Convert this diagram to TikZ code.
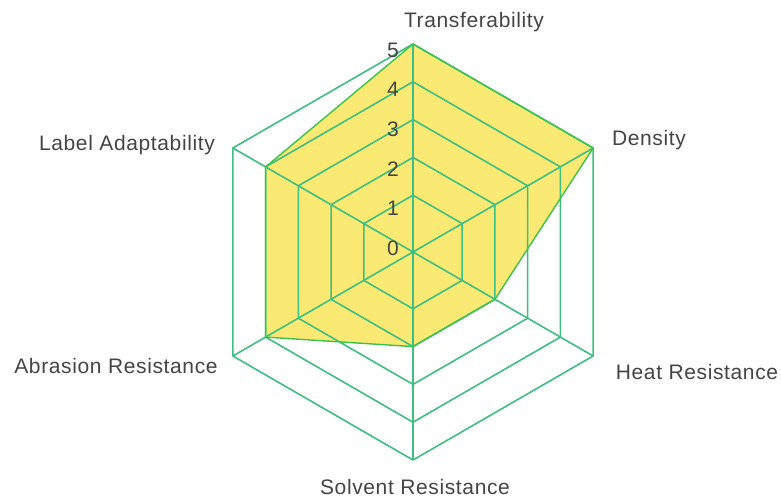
\documentclass[tikz,border=0pt]{standalone}
\usepackage{fontspec}
\setmainfont{Liberation Sans}
\newfontfamily\labelfont{Liberation Sans}[LetterSpace=3]
\definecolor{ringgreen}{RGB}{62,190,128}
\definecolor{areagreen}{RGB}{60,195,75}
\definecolor{areayellow}{RGB}{250,234,115}
\definecolor{labelgray}{RGB}{68,68,68}

\begin{document}
\begin{tikzpicture}[x=1pt,y=1pt,
  ring/.style={draw=ringgreen,line width=1.6pt,line join=round},
  area/.style={draw=areagreen,line width=1.4pt,line join=round},
  axislabel/.style={text=labelgray,font=\labelfont\fontsize{21}{25}\selectfont,inner sep=0pt},
  ticklabel/.style={text=labelgray,font=\fontsize{21}{25}\selectfont,inner sep=0pt}]
\useasboundingbox (0,0) rectangle (781,500);
\coordinate (c) at (413,248);

% data
\foreach \a/\v [count=\i] in {90/5,30/5,-30/2,-90/2,-150/4,150/4}
  \coordinate (p\i) at ([shift={(\a:{19+37.8*\v})}]c);
\fill[areayellow] (p1) -- (p2) -- (p3) -- (p4) -- (p5) -- (p6) -- cycle;

% rings
\foreach \k in {1,...,5}{
  \pgfmathsetmacro\r{19+37.8*\k}
  \draw[ring] ([shift={(90:\r)}]c) -- ([shift={(30:\r)}]c) -- ([shift={(-30:\r)}]c)
    -- ([shift={(-90:\r)}]c) -- ([shift={(-150:\r)}]c) -- ([shift={(150:\r)}]c) -- cycle;
}
\foreach \a [count=\i] in {90,30,-30,-90,-150,150}
  \coordinate (o\i) at ([shift={(\a:208)}]c);
\foreach \i in {1,...,6}
  \draw[ring] (c) -- (o\i);

\draw[area] (p1) -- (p2) -- (p3) -- (p4) -- (p5) -- (p6) -- cycle;

% scale
\foreach \k in {0,...,5}
  \node[ticklabel] (t\k) at (393,{252+39.6*\k}) {\k};

% axes
\node[axislabel] (transfer) at (474,478) {Transferability};
\node[axislabel] (density) at (649,360) {Density};
\node[axislabel] (heat) at (697,128) {Heat Resistance};
\node[axislabel] (solvent) at (415,13) {Solvent Resistance};
\node[axislabel] (abrasion) at (116,134) {Abrasion Resistance};
\node[axislabel] (adapt) at (127,355) {Label Adaptability};
\end{tikzpicture}
\end{document}
